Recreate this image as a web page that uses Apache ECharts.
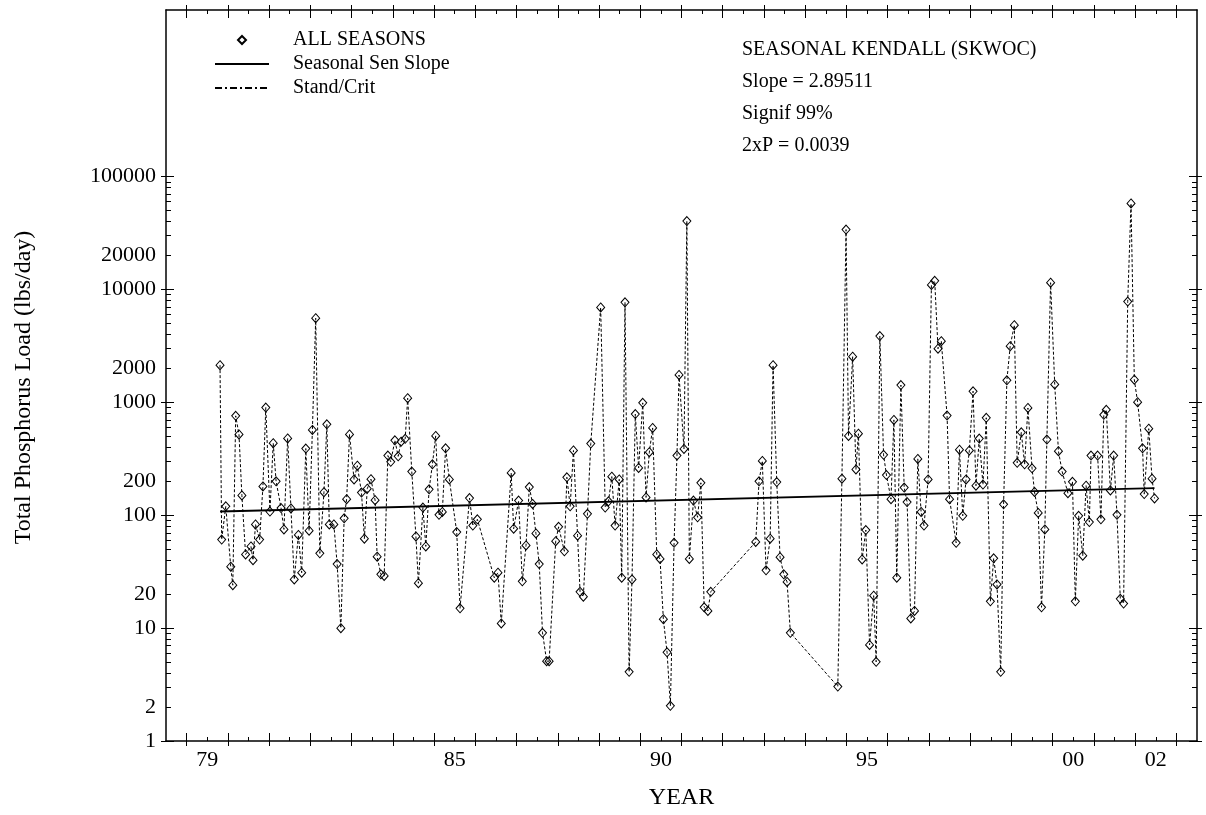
<!DOCTYPE html>
<html lang="en">
<head>
<meta charset="UTF-8">
<title>Total Phosphorus Load - Seasonal Kendall</title>
<script src="https://cdn.jsdelivr.net/npm/echarts@6.0.0/dist/echarts.min.js"></script>
<style>
  html, body { margin: 0; background: #fff; }
  #main { width: 1206px; height: 815px; }
</style>
</head>
<body>
<div id="main"></div>
<script>
// sample dates (decimal years) and loads (lbs/day)
const years = [
  1979.81, 1979.85, 1979.95, 1980.07, 1980.12, 1980.19, 1980.27, 1980.34, 1980.43, 1980.56,
  1980.61, 1980.67, 1980.77, 1980.85, 1980.92, 1981.02, 1981.10, 1981.17, 1981.29, 1981.36,
  1981.45, 1981.53, 1981.61, 1981.71, 1981.79,
  1981.89, 1981.97, 1982.05, 1982.13, 1982.23, 1982.33, 1982.40, 1982.46, 1982.57, 1982.65,
  1982.74, 1982.82, 1982.88, 1982.95, 1983.06, 1983.14, 1983.24, 1983.31, 1983.38, 1983.47,
  1983.57, 1983.62, 1983.71, 1983.79, 1983.88, 1983.95, 1984.05, 1984.13, 1984.20, 1984.30,
  1984.36, 1984.46, 1984.56, 1984.62, 1984.73, 1984.80, 1984.88, 1984.96,
  1985.04, 1985.12, 1985.20, 1985.28, 1985.37, 1985.55, 1985.63, 1985.86, 1985.94, 1986.05,
  1986.46, 1986.55, 1986.63, 1986.87, 1986.93, 1987.05, 1987.14, 1987.23, 1987.31, 1987.39,
  1987.47, 1987.55, 1987.63, 1987.73, 1987.79, 1987.95, 1988.02,
  1988.16, 1988.22, 1988.30, 1988.38, 1988.48, 1988.54, 1988.62, 1988.72, 1988.80, 1989.04,
  1989.15, 1989.23, 1989.31, 1989.39, 1989.49, 1989.55, 1989.63, 1989.73, 1989.80, 1989.88,
  1989.96, 1990.06, 1990.14, 1990.22, 1990.30, 1990.40, 1990.48, 1990.56, 1990.65, 1990.73,
  1990.82, 1990.89, 1990.94, 1991.06, 1991.13, 1991.19,
  1991.29, 1991.39, 1991.47, 1991.55, 1991.64, 1991.71, 1992.80, 1992.88, 1992.96, 1993.05,
  1993.15, 1993.22, 1993.31, 1993.39, 1993.48, 1993.56, 1993.64,
  1994.79, 1994.89, 1994.99, 1995.05, 1995.15, 1995.23, 1995.29, 1995.38, 1995.47, 1995.56,
  1995.66, 1995.72, 1995.81, 1995.90, 1995.97, 1996.08, 1996.15, 1996.22, 1996.32, 1996.40,
  1996.47, 1996.56, 1996.65, 1996.73, 1996.81, 1996.88, 1996.98, 1997.06, 1997.14, 1997.22,
  1997.30, 1997.44, 1997.50,
  1997.66, 1997.74, 1997.82, 1997.90, 1997.98, 1998.07, 1998.14, 1998.22, 1998.31, 1998.39,
  1998.49, 1998.57, 1998.65, 1998.74, 1998.81, 1998.89, 1998.97, 1999.07, 1999.14, 1999.24,
  1999.32, 1999.40, 1999.50, 1999.56, 1999.65, 1999.73, 1999.81, 1999.86, 1999.95, 2000.05,
  2000.14, 2000.23, 2000.37, 2000.48, 2000.55, 2000.63,
  2000.73, 2000.81, 2000.89, 2000.93, 2001.09, 2001.17, 2001.24, 2001.30, 2001.40, 2001.48,
  2001.56, 2001.64, 2001.72, 2001.82, 2001.90, 2001.98, 2002.06, 2002.18, 2002.22, 2002.33,
  2002.41, 2002.47
];
const loads = [
  2140, 61, 120, 35, 24, 760, 520, 150, 45, 53,
  40, 83, 61, 180, 900, 108, 435, 200, 116, 75,
  480, 115, 27, 67, 31,
  390, 73, 570, 5570, 46, 160, 640, 83, 83, 37,
  10, 94, 139, 520, 208, 275, 159, 62, 172, 209,
  136, 43, 30, 29, 338, 298, 462, 333, 449, 476,
  1090, 244, 65, 25, 117, 53, 170, 283,
  505, 101, 107, 392, 208, 71, 15, 142, 81, 92,
  28, 31, 11, 237, 76, 135, 26, 54, 178, 126,
  69, 37, 9.1, 5.1, 5.1, 59, 79,
  48, 217, 120, 375, 66, 21, 19, 103, 432, 6950,
  117, 133, 220, 81, 208, 28, 7710, 4.1, 27, 788,
  263, 991, 144, 362, 594, 45, 41, 12, 6.1, 2.05,
  57, 338, 1750, 387, 40500, 41,
  135, 96, 194, 15.3, 14.2, 21, 58, 200, 303, 32.5,
  62, 2140, 197, 42.5, 30, 25.7, 9.1,
  3.04, 211, 34000, 505, 2540, 255, 528, 40.6, 74, 7.1,
  19.4, 5.03, 3870, 343, 227, 139, 700, 28, 1425, 176,
  131, 12.2, 14.2, 316, 107, 81, 208, 11000, 11950, 2990,
  3490, 764, 139,
  57, 381, 99, 208, 375, 1256, 183, 479, 187, 731,
  17.3, 41.6, 24.4, 4.1, 125, 1570, 3150, 4840, 292, 543,
  283, 893, 261, 161, 105, 15.3, 75, 469, 11500, 1445,
  370, 244, 157, 198, 17.3, 99,
  43.8, 183, 87, 338, 338, 92, 776, 861, 166, 338,
  101, 18.2, 16.5, 7830, 57900, 1592, 1005, 392, 154, 585,
  211, 141
];

// seasonal Sen slope line end points
const senYears = [1979.81, 2002.47];
const senLoads = [108, 174];

// axis ticks and labels
const yearTicks = [1979, 1980, 1981, 1982, 1983, 1984, 1985, 1986, 1987, 1988, 1989, 1990, 1991,
  1992, 1993, 1994, 1995, 1996, 1997, 1998, 1999, 2000, 2001, 2002, 2003];
const halfYearTicks = [1979.5, 1980.5, 1981.5, 1982.5, 1983.5, 1984.5, 1985.5, 1986.5, 1987.5,
  1988.5, 1989.5, 1990.5, 1991.5, 1992.5, 1993.5, 1994.5, 1995.5, 1996.5, 1997.5, 1998.5,
  1999.5, 2000.5, 2001.5, 2002.5];
const yearLabels = [1979.5, 1985.5, 1990.5, 1995.5, 2000.5, 2002.5];
const loadLabels = [1, 2, 10, 20, 100, 200, 1000, 2000, 10000, 20000, 100000];
const loadMajor = [1, 10, 100, 1000, 10000, 100000];
const loadMinor = [2, 3, 4, 5, 6, 7, 8, 9, 20, 30, 40, 50, 60, 70, 80, 90,
  200, 300, 400, 500, 600, 700, 800, 900, 2000, 3000, 4000, 5000, 6000, 7000, 8000, 9000,
  20000, 30000, 40000, 50000, 60000, 70000, 80000, 90000];

const FONT = 'Liberation Serif';

function xAx(position, ticks, len, inside, line, labels) {
  return {
    type: 'value', position: position, min: 1978.5, max: 2003.5,
    axisLine: { show: line, onZero: false, lineStyle: { color: '#000', width: 1.5 } },
    axisTick: { show: true, customValues: ticks, inside: inside, length: len, lineStyle: { color: '#000', width: 1 } },
    axisLabel: labels ? {
      customValues: labels, color: '#000', fontFamily: FONT, fontSize: 22, margin: 8,
      formatter: v => String(Math.floor(v) % 100).padStart(2, '0')
    } : { show: false },
    splitLine: { show: false }
  };
}

function yAx(position, ticks, len, inside, line, labels) {
  return {
    type: 'log', logBase: 10, position: position, min: 1, max: 3000000,
    axisLine: { show: line, onZero: false, lineStyle: { color: '#000', width: 1.5 } },
    axisTick: { show: true, customValues: ticks, inside: inside, length: len, lineStyle: { color: '#000', width: 1 } },
    axisLabel: labels ? {
      customValues: labels, color: '#000', fontFamily: FONT, fontSize: 22, margin: 10,
      formatter: v => String(Math.round(v))
    } : { show: false },
    splitLine: { show: false },
    minorTick: { show: false }
  };
}

const chart = echarts.init(document.getElementById('main'));

const xBottom = xAx('bottom', yearTicks, 8, true, true, yearLabels);
xBottom.name = 'YEAR';
xBottom.nameLocation = 'middle';
xBottom.nameGap = 45;
xBottom.nameTextStyle = { color: '#000', fontFamily: FONT, fontSize: 24 };

const yLeft = yAx('left', loadMajor, 8, true, true, loadLabels);
yLeft.name = 'Total Phosphorus Load (lbs/day)';
yLeft.nameLocation = 'middle';
yLeft.nameGap = 130;
yLeft.nameTextStyle = { color: '#000', fontFamily: FONT, fontSize: 24, padding: [0, 24, 0, 0] };

const option = {
  animation: false,
  backgroundColor: '#fff',
  grid: { left: 166, right: 9, top: 10, bottom: 72.5 },
  title: {
    text: 'SEASONAL KENDALL (SKWOC)\nSlope = 2.89511\nSignif 99%\n2xP = 0.0039',
    left: 737, top: 29,
    textStyle: { color: '#000', fontFamily: FONT, fontSize: 20, fontWeight: 'normal', lineHeight: 32 }
  },
  legend: {
    orient: 'vertical', left: 209, top: 25,
    itemWidth: 54, itemHeight: 10, itemGap: 4,
    selectedMode: false,
    textStyle: { color: '#000', fontFamily: FONT, fontSize: 20, lineHeight: 20, padding: [0, 0, 0, 19] },
    data: [
      { name: 'ALL SEASONS', lineStyle: { opacity: 0 } },
      { name: 'Seasonal Sen Slope', itemStyle: { opacity: 0 } },
      { name: 'Stand/Crit', itemStyle: { opacity: 0 } }
    ]
  },
  xAxis: [
    xBottom,
    xAx('bottom', yearTicks, 5, false, false, null),
    xAx('bottom', halfYearTicks, 4, true, false, null),
    xAx('top', yearTicks, 8, true, true, null),
    xAx('top', yearTicks, 5, false, false, null),
    xAx('top', halfYearTicks, 4, true, false, null)
  ],
  yAxis: [
    yLeft,
    yAx('left', loadMajor, 5, false, false, null),
    yAx('left', loadMinor, 5, true, false, null),
    yAx('right', loadMajor, 8, true, true, null),
    yAx('right', loadMajor, 5, false, false, null),
    yAx('right', loadMinor, 5, true, false, null)
  ],
  series: [
    {
      name: 'ALL SEASONS', type: 'line', xAxisIndex: 0, yAxisIndex: 0,
      data: years.map((y, i) => [y, loads[i]]),
      symbol: 'path://M0,-5L4,0L0,5L-4,0Z', symbolSize: [8, 9],
      itemStyle: { color: 'rgba(0,0,0,0)', borderColor: '#000', borderWidth: 1 },
      lineStyle: { color: '#000', width: 1, type: [3, 2] },
      z: 3
    },
    {
      name: 'Seasonal Sen Slope', type: 'line', xAxisIndex: 0, yAxisIndex: 0,
      data: senYears.map((y, i) => [y, senLoads[i]]),
      symbol: 'none', itemStyle: { color: '#000' },
      lineStyle: { color: '#000', width: 1.8 },
      z: 4
    },
    {
      name: 'Stand/Crit', type: 'line', xAxisIndex: 0, yAxisIndex: 0,
      data: [], symbol: 'none', itemStyle: { color: '#000' },
      lineStyle: { color: '#000', width: 1, type: [7, 3, 2, 3] }
    }
  ]
};

chart.setOption(option);
</script>
</body>
</html>
